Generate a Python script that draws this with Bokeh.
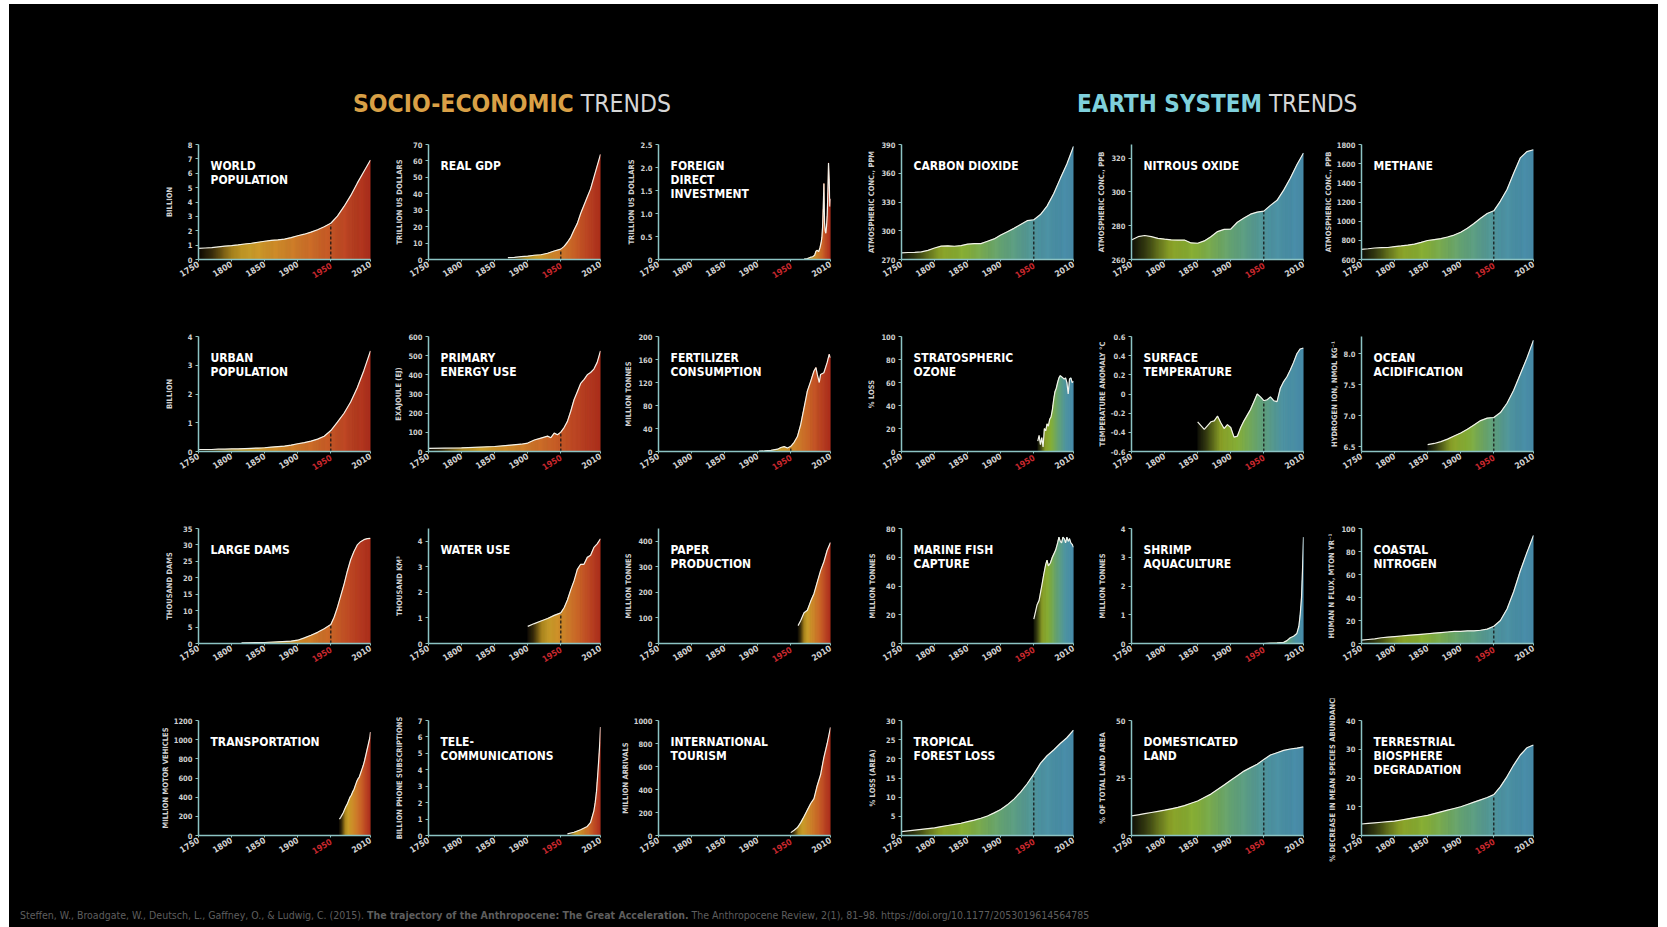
import math
import numpy as np
from bokeh.plotting import figure
from bokeh.models import Label, Div, Spacer, FixedTicker, Range1d, LinearAxis
from bokeh.layouts import row, column
from bokeh.embed import file_html
from bokeh.resources import INLINE

# ---------------- data ----------------
x_ticks = [1750, 1800, 1850, 1900, 1950, 2010]

pop_years = list(range(1750, 2011, 10))
pop_vals = [0.77, 0.80, 0.83, 0.88, 0.93, 0.97, 1.02, 1.08, 1.13, 1.20, 1.27, 1.33, 1.36, 1.42,
            1.52, 1.65, 1.76, 1.90, 2.07, 2.28, 2.52, 3.02, 3.69, 4.44, 5.31, 6.12, 6.92]

gdp_years = [1870, 1880, 1890, 1900, 1910, 1920, 1930, 1940, 1950, 1955, 1960, 1965, 1970,
             1975, 1980, 1985, 1990, 1995, 2000, 2005, 2010]
gdp_vals = [1.1, 1.3, 1.7, 2.0, 2.6, 2.9, 3.8, 5.2, 6.3, 8.0, 10.5, 13.5, 18, 22, 28, 33, 38,
            43, 50, 57, 64]

fdi_years = [1970, 1975, 1980, 1983, 1986, 1988, 1990, 1992, 1994, 1996, 1997, 1998, 1999,
             2000, 2001, 2002, 2003, 2004, 2005, 2006, 2007, 2008, 2009, 2010]
fdi_vals = [0.01, 0.02, 0.05, 0.06, 0.09, 0.18, 0.2, 0.17, 0.25, 0.38, 0.48, 0.7, 1.1, 1.65,
            0.8, 0.62, 0.57, 0.72, 0.95, 1.45, 2.1, 1.75, 1.15, 1.32]

co2_years = list(range(1750, 2011, 10))
co2_vals = [277, 277.3, 277.5, 278, 279.5, 282, 284, 284.3, 283.8, 284.5, 286, 286.5, 286.5,
            289, 291.5, 295.5, 299, 302.5, 306.5, 310.5, 311.5, 316.9, 325.7, 338.7, 354.4,
            369.7, 388]

n2o_years = list(range(1750, 2011, 10))
n2o_vals = [271.5, 273.5, 274.2, 273.5, 272.5, 272, 271.6, 271.5, 271.5, 269.8, 269.6, 271,
            273.5, 276.5, 277.8, 278, 282, 284.5, 286.8, 288, 288.6, 292, 295, 301, 308, 316, 323]

ch4_years = list(range(1750, 2011, 10))
ch4_vals = [705, 712, 720, 724, 725, 735, 742, 750, 760, 778, 798, 808, 818, 835, 855, 885,
            925, 975, 1030, 1080, 1108, 1210, 1330, 1500, 1660, 1725, 1745]

urban_years = list(range(1750, 2011, 10))
urban_vals = [0.07, 0.07, 0.07, 0.08, 0.08, 0.09, 0.09, 0.10, 0.11, 0.12, 0.13, 0.15, 0.17,
              0.19, 0.22, 0.27, 0.31, 0.36, 0.43, 0.53, 0.73, 1.02, 1.33, 1.72, 2.22, 2.82, 3.5]

energy_years = [1750, 1800, 1850, 1870, 1890, 1900, 1910, 1920, 1930, 1935, 1940, 1945, 1950,
                1955, 1960, 1965, 1970, 1975, 1980, 1985, 1990, 1995, 2000, 2005, 2010]
energy_vals = [16, 19, 26, 32, 38, 44, 60, 70, 80, 72, 96, 87, 101, 125, 157, 210, 270, 312,
               355, 375, 400, 412, 430, 465, 525]

fert_years = [1902, 1910, 1920, 1930, 1935, 1940, 1945, 1950, 1955, 1960, 1965, 1970, 1975,
              1980, 1985, 1988, 1990, 1993, 1995, 2000, 2005, 2008, 2010]
fert_vals = [0.5, 1, 2, 4, 7, 8.5, 6, 9, 16, 26, 47, 76, 105, 122, 140, 146, 134, 120, 134, 137,
             155, 169, 163]

ozone_years = [1956, 1958, 1960, 1962, 1964, 1966, 1968, 1970, 1972, 1974, 1976, 1978, 1980,
               1982, 1984, 1986, 1988, 1990, 1992, 1994, 1996, 1998, 2000, 2002, 2004, 2006,
               2008, 2010]
ozone_vals = [9, 14, 6, 12, 4, 20, 18, 24, 22, 28, 30, 36, 45, 52, 55, 60, 64, 66, 65, 64, 63,
              64, 60, 50, 63, 64, 60, 61]

temp_years = list(range(1850, 2011, 5))
temp_vals = [-0.29, -0.33, -0.37, -0.33, -0.29, -0.28, -0.23, -0.30, -0.36, -0.32, -0.35,
             -0.45, -0.44, -0.35, -0.28, -0.22, -0.16, -0.08, 0.0, -0.03, -0.07, -0.06, -0.03,
             -0.07, -0.08, 0.06, 0.13, 0.18, 0.25, 0.33, 0.42, 0.47, 0.48]

ocean_years = list(range(1850, 2011, 10))
ocean_vals = [6.53, 6.55, 6.58, 6.62, 6.67, 6.72, 6.78, 6.85, 6.92, 6.96, 6.97, 7.05, 7.2,
              7.41, 7.67, 7.93, 8.22]

dams_years = [1815, 1850, 1870, 1890, 1900, 1910, 1920, 1930, 1940, 1950, 1955, 1960, 1965,
              1970, 1975, 1980, 1985, 1990, 1995, 2000, 2005, 2010]
dams_vals = [0.2, 0.3, 0.5, 0.7, 1.0, 1.7, 2.5, 3.4, 4.5, 5.8, 8, 11, 14.5, 18, 22, 25.5, 28,
             30, 31, 31.6, 31.9, 32]

water_years = [1900, 1910, 1920, 1930, 1940, 1950, 1955, 1960, 1965, 1970, 1975, 1980, 1985,
               1990, 1995, 2000, 2005, 2010]
water_vals = [0.67, 0.78, 0.88, 0.98, 1.1, 1.2, 1.4, 1.7, 2.1, 2.45, 2.9, 3.1, 3.1, 3.37, 3.45,
              3.76, 3.9, 4.1]

paper_years = [1961, 1965, 1970, 1975, 1980, 1985, 1990, 1995, 2000, 2005, 2010]
paper_vals = [70, 90, 120, 130, 165, 195, 240, 285, 320, 365, 395]

fish_years = [1950, 1952, 1955, 1958, 1960, 1962, 1965, 1968, 1970, 1972, 1975, 1978, 1980,
              1983, 1986, 1988, 1990, 1992, 1994, 1996, 1998, 2000, 2002, 2004, 2006, 2008, 2010]
fish_vals = [17, 21, 27, 30, 35, 40, 48, 55, 58, 54, 56, 60, 62, 65, 70, 74, 71, 70, 74, 73,
             70, 74, 71, 73, 70, 69, 67]

shrimp_years = [1950, 1960, 1970, 1980, 1985, 1990, 1995, 2000, 2003, 2005, 2007, 2008, 2009,
                2010]
shrimp_vals = [0, 0.01, 0.02, 0.04, 0.1, 0.2, 0.25, 0.35, 0.6, 1.0, 1.6, 2.2, 2.9, 3.7]

coastal_years = list(range(1750, 2011, 10))
coastal_vals = [3, 3.5, 4, 5, 5.5, 6, 6.5, 7, 7.5, 8, 8.5, 9, 9.5, 10, 10.5, 10.5, 11, 11,
                11.5, 12.5, 15, 20, 30, 45, 63, 79, 94]

transport_years = [1963, 1965, 1967, 1969, 1971, 1973, 1975, 1977, 1979, 1981, 1983, 1985,
                   1987, 1989, 1991, 1993, 1995, 1997, 1999, 2001, 2003, 2005, 2007, 2009, 2010]
transport_vals = [170, 190, 215, 240, 275, 305, 330, 365, 400, 420, 455, 480, 520, 560, 590,
                  610, 650, 690, 730, 780, 840, 900, 960, 1020, 1080]

telecom_years = [1960, 1970, 1980, 1990, 1995, 2000, 2002, 2004, 2006, 2007, 2008, 2009, 2010]
telecom_vals = [0.1, 0.2, 0.35, 0.55, 0.8, 1.5, 2.0, 2.7, 3.8, 4.4, 5.0, 5.7, 6.6]

tourism_years = [1950, 1955, 1960, 1965, 1970, 1975, 1980, 1985, 1990, 1995, 2000, 2005, 2010]
tourism_vals = [25, 46, 69, 112, 166, 222, 278, 320, 435, 528, 680, 800, 940]

forest_years = list(range(1750, 2011, 10))
forest_vals = [1, 1.2, 1.4, 1.6, 1.8, 2.0, 2.3, 2.6, 2.9, 3.2, 3.6, 4.0, 4.5, 5.1, 5.9, 6.8,
               8.0, 9.5, 11.3, 13.5, 16, 18.8, 20.8, 22.3, 24, 25.5, 27.5]

land_years = list(range(1750, 2011, 10))
land_vals = [8.5, 9, 9.5, 10, 10.5, 11, 11.6, 12.2, 13, 14, 15, 16.5, 18, 20, 22, 24, 26, 28,
             29.5, 31, 33, 35, 36, 37, 37.6, 38, 38.5]

bio_years = list(range(1750, 2011, 10))
bio_vals = [4, 4.2, 4.4, 4.6, 4.8, 5, 5.4, 5.8, 6.2, 6.6, 7, 7.6, 8.2, 8.8, 9.4, 10, 10.8,
            11.6, 12.4, 13.2, 14.2, 17, 20.5, 24.5, 28, 30.5, 31.5]

titles = [
    ["WORLD", "POPULATION"], ["REAL GDP"], ["FOREIGN", "DIRECT", "INVESTMENT"],
    ["CARBON DIOXIDE"], ["NITROUS OXIDE"], ["METHANE"],
    ["URBAN", "POPULATION"], ["PRIMARY", "ENERGY USE"], ["FERTILIZER", "CONSUMPTION"],
    ["STRATOSPHERIC", "OZONE"], ["SURFACE", "TEMPERATURE"], ["OCEAN", "ACIDIFICATION"],
    ["LARGE DAMS"], ["WATER USE"], ["PAPER", "PRODUCTION"],
    ["MARINE FISH", "CAPTURE"], ["SHRIMP", "AQUACULTURE"], ["COASTAL", "NITROGEN"],
    ["TRANSPORTATION"], ["TELE-", "COMMUNICATIONS"], ["INTERNATIONAL", "TOURISM"],
    ["TROPICAL", "FOREST LOSS"], ["DOMESTICATED", "LAND"], ["TERRESTRIAL", "BIOSPHERE", "DEGRADATION"],
]
y_labels = [
    "BILLION", "TRILLION US DOLLARS", "TRILLION US DOLLARS",
    "ATMOSPHERIC CONC., PPM", "ATMOSPHERIC CONC., PPB", "ATMOSPHERIC CONC., PPB",
    "BILLION", "EXAJOULE (EJ)", "MILLION TONNES",
    "% LOSS", "TEMPERATURE ANOMALY °C", "HYDROGEN ION, NMOL KG⁻¹",
    "THOUSAND DAMS", "THOUSAND KM³", "MILLION TONNES",
    "MILLION TONNES", "MILLION TONNES", "HUMAN N FLUX, MTON YR⁻¹",
    "MILLION MOTOR VEHICLES", "BILLION PHONE SUBSCRIPTIONS", "MILLION ARRIVALS",
    "% LOSS (AREA)", "% OF TOTAL LAND AREA", "% DECREASE IN MEAN SPECIES ABUNDANCE",
]
y_ranges = [
    (0, 8), (0, 70), (0, 2.5), (270, 390), (260, 328), (600, 1800),
    (0, 4), (0, 600), (0, 200), (0, 100), (-0.6, 0.6), (6.42, 8.28),
    (0, 35), (0, 4.5), (0, 450), (0, 80), (0, 4), (0, 100),
    (0, 1200), (0, 7), (0, 1000), (0, 30), (0, 50), (0, 40),
]
y_tick_labels = [
    ["0", "1", "2", "3", "4", "5", "6", "7", "8"],
    ["0", "10", "20", "30", "40", "50", "60", "70"],
    ["0", "0.5", "1.0", "1.5", "2.0", "2.5"],
    ["270", "300", "330", "360", "390"],
    ["260", "280", "300", "320"],
    ["600", "800", "1000", "1200", "1400", "1600", "1800"],
    ["0", "1", "2", "3", "4"],
    ["0", "100", "200", "300", "400", "500", "600"],
    ["0", "40", "80", "120", "160", "200"],
    ["0", "20", "40", "60", "80", "100"],
    ["-0.6", "-0.4", "-0.2", "0", "0.2", "0.4", "0.6"],
    ["6.5", "7.0", "7.5", "8.0"],
    ["0", "5", "10", "15", "20", "25", "30", "35"],
    ["0", "1", "2", "3", "4"],
    ["0", "100", "200", "300", "400"],
    ["0", "20", "40", "60", "80"],
    ["0", "1", "2", "3", "4"],
    ["0", "20", "40", "60", "80", "100"],
    ["0", "200", "400", "600", "800", "1000", "1200"],
    ["0", "1", "2", "3", "4", "5", "6", "7"],
    ["0", "200", "400", "600", "800", "1000"],
    ["0", "5", "10", "15", "20", "25", "30"],
    ["0", "25", "50"],
    ["0", "10", "20", "30", "40"],
]
series = [
    (pop_years, pop_vals), (gdp_years, gdp_vals), (fdi_years, fdi_vals),
    (co2_years, co2_vals), (n2o_years, n2o_vals), (ch4_years, ch4_vals),
    (urban_years, urban_vals), (energy_years, energy_vals), (fert_years, fert_vals),
    (ozone_years, ozone_vals), (temp_years, temp_vals), (ocean_years, ocean_vals),
    (dams_years, dams_vals), (water_years, water_vals), (paper_years, paper_vals),
    (fish_years, fish_vals), (shrimp_years, shrimp_vals), (coastal_years, coastal_vals),
    (transport_years, transport_vals), (telecom_years, telecom_vals), (tourism_years, tourism_vals),
    (forest_years, forest_vals), (land_years, land_vals), (bio_years, bio_vals),
]

# ---------------- style ----------------
FONT = "'DejaVu Sans Condensed', 'Liberation Sans Narrow', 'Roboto', sans-serif"
AXIS_COLOR = "#8cc4c4"
SOCIO_STOPS = [(0, "#0e0b05"), (0.08, "#3a2e0c"), (0.2, "#b08a20"), (0.3, "#cfa22c"),
               (0.5, "#d3882c"), (0.7, "#cf682a"), (0.85, "#c24a26"), (1.0, "#b0301e")]
EARTH_STOPS = [(0, "#0f1109"), (0.08, "#353b12"), (0.22, "#8ea42a"), (0.38, "#8ab43a"),
               (0.58, "#68a878"), (0.8, "#5198a6"), (1.0, "#4a8fae")]


def hex2rgb(h):
    h = h.lstrip("#")
    return [int(h[i:i + 2], 16) for i in (0, 2, 4)]


def grad(stops, t):
    t = min(max(t, 0.0), 1.0)
    for (t0, c0), (t1, c1) in zip(stops[:-1], stops[1:]):
        if t <= t1:
            f = (t - t0) / (t1 - t0) if t1 > t0 else 0
            a, b = hex2rgb(c0), hex2rgb(c1)
            return "#%02x%02x%02x" % tuple(int(round(a[k] + (b[k] - a[k]) * f)) for k in range(3))
    return stops[-1][1]


FW, FH = 172, 115


def style_axis(ax):
    ax.axis_line_color = AXIS_COLOR
    ax.axis_line_width = 1.5
    ax.major_tick_line_color = AXIS_COLOR
    ax.major_tick_in = 0
    ax.minor_tick_line_color = None
    ax.major_label_text_font = FONT
    ax.major_label_text_font_style = "bold"
    ax.major_label_text_color = "#cfcfcf"


def make_panel(i):
    col, rw = i % 6, i // 6
    xs, ys = series[i]
    y0, y1 = y_ranges[i]
    stops = SOCIO_STOPS if col < 3 else EARTH_STOPS
    bl = 44
    br = 14 + (13 if col == 2 else 0)
    bt = [10, 10, 10, 22][rw]
    bb = [67, 67, 55, 45][rw]
    p = figure(width=bl + FW + br, height=bt + FH + bb,
               x_range=Range1d(1750, 2010), y_range=Range1d(y0, y1),
               min_border_left=bl, min_border_right=br, min_border_top=bt, min_border_bottom=bb,
               output_backend="svg", toolbar_location=None,
               background_fill_color="black", border_fill_color="black",
               outline_line_color=None)
    p.xgrid.visible = False
    p.ygrid.visible = False

    dx = 260.0 / FW
    dy = (y1 - y0) / FH

    # gradient fill: area under the line cut into thin vertical slices, each its own colour
    px, py, pc = [], [], []
    span = xs[-1] - xs[0]
    for k in range(len(xs) - 1):
        xa, xb, ya, yb = xs[k], xs[k + 1], ys[k], ys[k + 1]
        m = max(1, int(math.ceil((xb - xa) / 1.5)))
        for j in range(m):
            fa, fb = j / m, (j + 1) / m
            sxa, sxb = xa + (xb - xa) * fa, xa + (xb - xa) * fb
            sya, syb = ya + (yb - ya) * fa, ya + (yb - ya) * fb
            px.append([sxa, sxa, sxb, sxb])
            py.append([y0, sya, syb, y0])
            pc.append(grad(stops, ((sxa + sxb) / 2.0 - xs[0]) / span))
    p.patches(px, py, fill_color=pc, line_color=pc, line_width=0.6)

    # 1950 dashed marker
    if xs[0] < 1950 and 1950 in xs:
        v = ys[xs.index(1950)]
        p.segment(x0=[1950], y0=[y0], x1=[1950], y1=[v], line_color="#141414",
                  line_width=1.2, line_dash="3 2")

    p.line(xs, ys, line_color="#f2f2ea", line_width=1.2)

    # y axis
    ticks = [float(s) for s in y_tick_labels[i]]
    yax = p.yaxis[0]
    style_axis(yax)
    yax.ticker = FixedTicker(ticks=ticks)
    yax.major_label_overrides = {t: s for t, s in zip(ticks, y_tick_labels[i])}
    yax.major_label_text_font_size = "7.5px"
    yax.major_tick_out = 3
    yax.major_label_standoff = 3
    maxlen = max(len(s) for s in y_tick_labels[i])
    yax.axis_label = y_labels[i]
    yax.axis_label_text_font = FONT
    yax.axis_label_text_font_style = "bold"
    yax.axis_label_text_font_size = "7.5px"
    yax.axis_label_text_color = "#d0d0d0"
    yax.axis_label_standoff = int(max(1, round(15 - 4.3 * maxlen)))

    # x axis (all years but 1950)
    xax = p.xaxis[0]
    style_axis(xax)
    xax.ticker = FixedTicker(ticks=x_ticks)
    xax.major_tick_out = 2
    xax.major_label_overrides = {1950: " "}
    xax.major_label_orientation = 0.55
    xax.major_label_standoff = 2
    xax.major_label_text_font_size = "8.5px"
    xax.major_label_text_color = "#d2d2d2"

    # second axis carrying the red 1950 label, pulled up onto the first axis row
    ax2 = LinearAxis(ticker=FixedTicker(ticks=[1950]), axis_line_color=None,
                     major_tick_line_color=None, minor_tick_line_color=None,
                     major_label_orientation=0.55, major_label_standoff=-28,
                     major_label_text_font=FONT, major_label_text_font_style="bold",
                     major_label_text_font_size="8.5px", major_label_text_color="#c8282e")
    p.add_layout(ax2, "below")

    for k, line in enumerate(titles[i]):
        p.add_layout(Label(x=1750 + 12 * dx, y=y1 - (14 + 14 * k) * dy, text=line,
                           text_align="left", text_baseline="top",
                           text_font=FONT, text_font_style="bold", text_font_size="12px",
                           text_color="#ffffff"))
    return p


rows = []
for r in range(4):
    figs = [make_panel(r * 6 + c) for c in range(6)]
    rows.append(row(Spacer(width=145, height=figs[0].height), *figs))

title_html = """
<div style="position:relative;width:1649px;height:120px;font-family:'DejaVu Sans Condensed','Roboto',sans-serif;">
 <div style="position:absolute;left:339px;top:81px;font-size:24.5px;line-height:28px;white-space:nowrap;">
  <span style="color:#d9a046;font-weight:700;">SOCIO-ECONOMIC</span><span style="color:#d6d6d6;font-weight:300;"> TRENDS</span>
 </div>
 <div style="position:absolute;left:1063px;top:81px;font-size:24px;line-height:28px;white-space:nowrap;">
  <span style="color:#7fd0dc;font-weight:700;">EARTH SYSTEM</span><span style="color:#d6d6d6;font-weight:300;"> TRENDS</span>
 </div>
</div>
"""
title = Div(text=title_html, width=1649, height=120)

footer_html = """
<div style="position:relative;width:1649px;height:50px;overflow:hidden;">
 <div style="position:absolute;left:6px;top:24px;font-family:'DejaVu Sans Condensed','Roboto',sans-serif;font-size:10.5px;line-height:12px;color:#5e5e5e;white-space:nowrap;">
 Steffen, W., Broadgate, W., Deutsch, L., Gaffney, O., &amp; Ludwig, C. (2015). <b>The trajectory of the Anthropocene: The Great Acceleration.</b> The Anthropocene Review, 2(1), 81–98. https://doi.org/10.1177/2053019614564785
 </div>
</div>
"""
footer = Div(text=footer_html, width=1649, height=50)

inner = column(title, *rows, footer, width=1649, styles={"background-color": "black"})
page = column(Spacer(width=10, height=4), row(Spacer(width=9, height=10), inner))

open("out.html", "w").write(file_html(page, INLINE))
